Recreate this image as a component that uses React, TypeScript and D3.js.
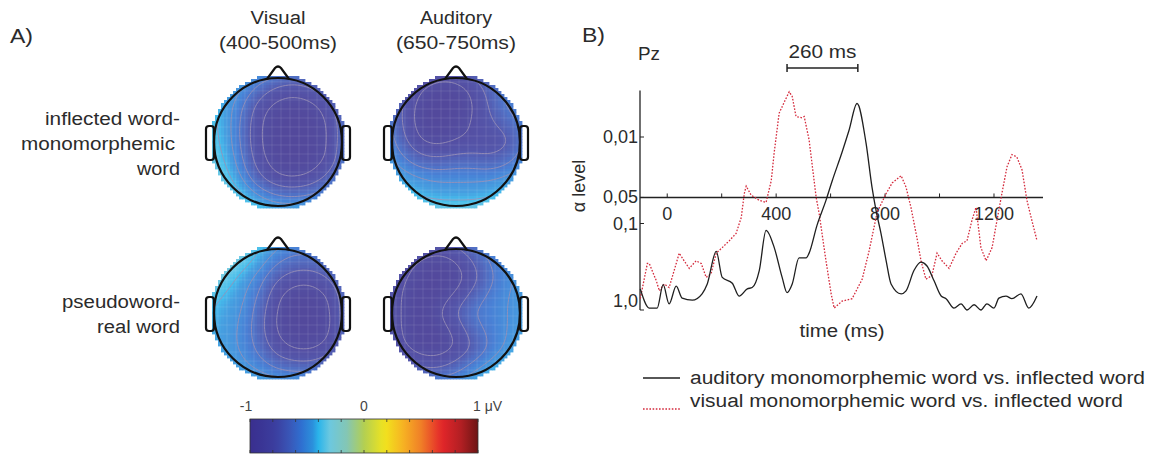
import React from "react";
import * as d3 from "d3";

const W = 1152;
const H = 455;
const FONT = "'Liberation Sans', Arial, sans-serif";
const INK = "#2b2b2b";

// ---------- panel A data ----------
const mapTitles = [
  ["Visual", "(400-500ms)"],
  ["Auditory", "(650-750ms)"],
];
const rowLabels = [
  ["inflected word-", "monomorphemic", "word"],
  ["pseudoword-", "real word"],
];

// amplitude in 1/100 µV on a 9x9 grid over the scalp (row 0 = nose side)
const visualInflected = [
  [-35, -38, -42, -48, -55, -58, -55, -48, -42],
  [-38, -42, -50, -68, -82, -86, -78, -62, -48],
  [-38, -44, -60, -86, -98, -100, -98, -82, -55],
  [-36, -44, -64, -92, -100, -100, -100, -90, -58],
  [-35, -43, -64, -92, -100, -100, -100, -90, -58],
  [-33, -40, -60, -88, -100, -100, -100, -88, -55],
  [-28, -36, -52, -76, -92, -95, -88, -70, -48],
  [-22, -30, -40, -52, -62, -64, -60, -50, -42],
  [-15, -22, -30, -36, -40, -40, -38, -35, -32],
];
const auditoryInflected = [
  [-50, -62, -75, -82, -80, -70, -58, -50, -45],
  [-55, -72, -92, -100, -100, -88, -68, -55, -48],
  [-55, -78, -100, -100, -100, -92, -72, -58, -50],
  [-55, -78, -100, -100, -98, -88, -78, -68, -55],
  [-50, -72, -92, -96, -90, -86, -86, -80, -58],
  [-45, -58, -70, -72, -68, -68, -72, -65, -50],
  [-40, -45, -50, -52, -52, -52, -52, -48, -42],
  [-32, -38, -42, -45, -45, -45, -42, -38, -34],
  [-22, -26, -30, -32, -32, -32, -30, -28, -25],
];
const visualPseudo = [
  [-15, -20, -28, -38, -48, -52, -52, -48, -42],
  [-18, -25, -35, -45, -58, -65, -65, -58, -48],
  [-25, -35, -45, -55, -75, -85, -85, -75, -55],
  [-35, -42, -48, -62, -90, -100, -100, -90, -62],
  [-40, -45, -50, -68, -95, -100, -100, -95, -62],
  [-42, -46, -52, -70, -95, -100, -100, -95, -62],
  [-42, -46, -52, -65, -85, -95, -95, -85, -58],
  [-38, -42, -48, -55, -65, -70, -70, -60, -48],
  [-30, -34, -38, -42, -45, -45, -45, -40, -35],
];
const auditoryPseudo = [
  [-55, -62, -72, -78, -72, -60, -50, -46, -42],
  [-65, -80, -95, -100, -92, -75, -58, -50, -44],
  [-70, -90, -100, -100, -100, -82, -62, -52, -45],
  [-75, -95, -100, -100, -88, -68, -56, -50, -45],
  [-75, -95, -100, -92, -72, -58, -54, -50, -45],
  [-75, -95, -100, -100, -86, -66, -56, -50, -44],
  [-70, -90, -100, -100, -92, -75, -58, -48, -40],
  [-55, -70, -80, -82, -70, -55, -46, -38, -30],
  [-40, -48, -52, -52, -48, -42, -34, -25, -15],
];
const contourLevels = [-0.9, -0.75, -0.6, -0.5, -0.4];

const colorTicks = [-1, 0, 1];
const colorTickLabels = ["-1", "0", "1 μV"];

// ---------- panel B data ----------
const timeTicks = [0, 200, 400, 600, 800, 1000, 1200];
const timeLabels = [0, 400, 800, 1200];
const alphaTicks = [0.01, 0.05, 0.1, 1];
const alphaLabels = ["0,01", "0,05", "0,1", "1,0"];
const scaleBar = [440, 700];

// [time ms, alpha]
const auditoryCurve = [
  [-99, 0.57], [-66, 0.95], [-37, 0.95], [-15, 0.51], [7, 0.85], [33, 0.53], [55, 0.73],
  [92, 0.77], [128, 0.65], [147, 0.5], [180, 0.21], [202, 0.42], [239, 0.49], [264, 0.69],
  [294, 0.57], [312, 0.55], [338, 0.35], [363, 0.12], [393, 0.19], [422, 0.42], [440, 0.63],
  [459, 0.5], [484, 0.25], [510, 0.25], [521, 0.22], [550, 0.105], [583, 0.054], [606, 0.032],
  [642, 0.015], [668, 0.0083], [697, 0.0041], [730, 0.0117], [752, 0.038], [767, 0.071],
  [785, 0.13], [804, 0.27], [822, 0.5], [859, 0.65], [877, 0.6], [906, 0.35], [932, 0.28],
  [954, 0.31], [980, 0.46], [1006, 0.69], [1024, 0.74], [1053, 0.95], [1079, 0.85],
  [1101, 1.0], [1127, 0.87], [1152, 1.0], [1174, 0.85], [1200, 0.95], [1218, 0.73],
  [1244, 0.69], [1266, 0.74], [1299, 0.65], [1328, 0.95], [1358, 0.69],
];
const visualCurve = [
  [-99, 0.74], [-73, 0.29], [-66, 0.29], [-40, 0.46], [-29, 0.6], [-11, 0.5], [7, 0.55],
  [33, 0.29], [44, 0.22], [62, 0.27], [81, 0.33], [106, 0.27], [125, 0.29], [143, 0.42],
  [161, 0.38], [180, 0.22], [202, 0.19], [228, 0.158], [253, 0.13], [272, 0.085], [283, 0.045],
  [290, 0.037], [308, 0.047], [338, 0.054], [363, 0.057], [382, 0.032], [393, 0.015],
  [411, 0.0053], [429, 0.004], [448, 0.003], [459, 0.0034], [473, 0.0058], [495, 0.006],
  [503, 0.0058], [521, 0.0108], [547, 0.05], [558, 0.077], [583, 0.27], [602, 0.65],
  [613, 0.95], [642, 0.79], [679, 0.74], [716, 0.44], [741, 0.21], [771, 0.074], [804, 0.045],
  [826, 0.034], [859, 0.028], [877, 0.038], [895, 0.065], [917, 0.146], [932, 0.27],
  [950, 0.44], [972, 0.4], [991, 0.22], [1009, 0.27], [1035, 0.33], [1061, 0.22], [1083, 0.17],
  [1101, 0.158], [1119, 0.092], [1134, 0.065], [1152, 0.19], [1171, 0.27], [1193, 0.19],
  [1211, 0.092], [1229, 0.045], [1248, 0.022], [1266, 0.016], [1284, 0.017], [1303, 0.024],
  [1321, 0.054], [1339, 0.092], [1358, 0.158],
];
const legendItems = [
  "auditory monomorphemic word vs. inflected word",
  "visual monomorphemic word vs. inflected word",
];

// colour map (jet-like)
const color = d3
  .scaleLinear<string>()
  .domain([-1, -0.78, -0.66, -0.55, -0.45, -0.4, -0.3, -0.15, 0, 0.18, 0.35, 0.5, 0.68, 0.85, 1])
  .range(["#3a2f8e", "#3b3d9e", "#3a55b6", "#2f6fd0", "#2b90dc", "#2ab4ea", "#6cc8df", "#84c6b4",
    "#b3cf52", "#f1e51d", "#f6b023", "#f07f27", "#e4262a", "#b21f23", "#6d1514"])
  .clamp(true);

function Txt(p: any) {
  const { children, size = 18, anchor = "start", len, ...rest } = p;
  return (
    <text fontFamily={FONT} fontSize={size} fill={INK} textAnchor={anchor}
      textLength={len} lengthAdjust={len ? "spacingAndGlyphs" : undefined} {...rest}>
      {children}
    </text>
  );
}

const HEAD_R = 64;
const N = 46;
const HALF = 69;

function Topo({ grid, cx, cy, id }: any) {
  const cell = (2 * HALF) / N;
  const rows = grid.map((r: number[]) => d3.interpolateBasis(r.map((v) => v / 100)));
  const values: number[] = new Array(N * N);
  for (let j = 0; j < N; j++) {
    const u = (j + 0.5) / N;
    const fc = d3.interpolateBasis(rows.map((f: any) => f(u)));
    for (let i = 0; i < N; i++) values[i * N + j] = fc((i + 0.5) / N);
  }
  const cells: any[] = [];
  for (let i = 0; i < N; i++) {
    for (let j = 0; j < N; j++) {
      const px = -HALF + (j + 0.5) * cell;
      const py = -HALF + (i + 0.5) * cell;
      if (Math.hypot(px, py) > 67.5) continue;
      cells.push(
        <rect key={i * N + j} x={cx - HALF + j * cell} y={cy - HALF + i * cell}
          width={cell + 0.4} height={cell + 0.4} fill={color(values[i * N + j])} />
      );
    }
  }
  const contours = d3.contours().size([N, N]).thresholds(contourLevels)(values);
  const path = d3.geoPath();
  const gridLines = d3.range(-60, 61, 9);
  return (
    <g>
      <clipPath id={id}>
        <circle cx={cx} cy={cy} r={65} />
      </clipPath>
      <g opacity={0.87}>{cells}</g>
      <g clipPath={`url(#${id})`}>
        <g stroke="#fff" strokeOpacity={0.1} strokeWidth={1}>
          {gridLines.map((d) => (
            <g key={d}>
              <line x1={cx + d} x2={cx + d} y1={cy - 66} y2={cy + 66} />
              <line x1={cx - 66} x2={cx + 66} y1={cy + d} y2={cy + d} />
            </g>
          ))}
        </g>
        <g transform={`translate(${cx - HALF},${cy - HALF}) scale(${cell})`}>
          {contours.map((c: any, k: number) => (
            <path key={k} d={path(c) || ""} fill="none" stroke="#9a90b6" strokeOpacity={0.85}
              strokeWidth={1} vectorEffect="non-scaling-stroke" />
          ))}
        </g>
      </g>
      <g fill="none" stroke="#111" strokeWidth={2.2}>
        <circle cx={cx} cy={cy} r={HEAD_R} />
        <path d={`M${cx - 11},${cy - HEAD_R + 1} L${cx - 3},${cy - HEAD_R - 10} Q${cx},${cy - HEAD_R - 13} ${cx + 3},${cy - HEAD_R - 10} L${cx + 11},${cy - HEAD_R + 1}`} />
        <rect x={cx - HEAD_R - 8} y={cy - 16} width={8} height={34} rx={3} />
        <rect x={cx + HEAD_R} y={cy - 16} width={8} height={34} rx={3} />
      </g>
    </g>
  );
}

export default function App() {
  // panel A layout
  const colX = [278, 456];
  const rowY = [142, 313];
  const maps = [
    [visualInflected, auditoryInflected],
    [visualPseudo, auditoryPseudo],
  ];
  const titleLen = [[55, 118], [72, 120]];
  const rowLen = [[135, 154, 43], [118, 83]];
  const rowRight = [[180, 175, 180], [180, 180]];

  const cbar = d3.scaleLinear().domain([-1, 1]).range([250, 478]);
  const gradStops = d3.range(-1, 1.0001, 0.05);

  // panel B scales
  const x = d3.scaleLinear().domain([-100, 1380]).range([640, 1043]);
  const y = d3.scaleLog().domain([1, 0.01]).range([310, 137]);
  const xAxisY = y(0.05);
  const lineA = d3.line<number[]>().x((d) => x(d[0])).y((d) => y(d[1])).curve(d3.curveMonotoneX);
  const lineV = d3.line<number[]>().x((d) => x(d[0])).y((d) => y(d[1]));

  return (
    <svg width={W} height={H} style={{ position: "absolute", left: 0, top: 0, background: "#fff" }}>
      <defs>
        <linearGradient id="cbarGrad" x1="0" x2="1" y1="0" y2="0">
          {gradStops.map((v) => (
            <stop key={v} offset={`${((v + 1) / 2) * 100}%`} stopColor={color(v)} />
          ))}
        </linearGradient>
      </defs>
      {/* ---------- panel A ---------- */}
      <Txt x={10} y={43} size={21} len={23}>A)</Txt>
      {mapTitles.map((t, c) => (
        <g key={c}>
          <Txt x={colX[c]} y={24} anchor="middle" len={titleLen[c][0]}>{t[0]}</Txt>
          <Txt x={colX[c]} y={49} anchor="middle" len={titleLen[c][1]}>{t[1]}</Txt>
        </g>
      ))}
      {rowLabels.map((lines, r) =>
        lines.map((s, k) => (
          <Txt key={`${r}-${k}`} x={rowRight[r][k]} y={(r === 0 ? 125 : 308) + k * 25}
            anchor="end" len={rowLen[r][k]}>{s}</Txt>
        ))
      )}
      {maps.map((row, r) =>
        row.map((g, c) => <Topo key={`${r}${c}`} grid={g} cx={colX[c]} cy={rowY[r]} id={`clip${r}${c}`} />)
      )}
      {/* colour bar */}
      <rect x={250} y={419} width={228} height={34} fill="url(#cbarGrad)" stroke="#333" strokeWidth={0.8} />
      {d3.range(-1, 1.001, 0.2).map((v) => (
        <g key={v} stroke="#333" strokeWidth={0.8}>
          <line x1={cbar(v)} x2={cbar(v)} y1={419} y2={422} />
          <line x1={cbar(v)} x2={cbar(v)} y1={450} y2={453} />
        </g>
      ))}
      {colorTicks.map((v, i) => (
        <Txt key={v} x={i === 2 ? cbar(v) - 5 : cbar(v) - (i === 0 ? 4 : 0)} y={411} size={14}
          anchor={i === 2 ? "start" : "middle"} fill="#444">{colorTickLabels[i]}</Txt>
      ))}

      {/* ---------- panel B ---------- */}
      <Txt x={582} y={42} size={21} len={23}>B)</Txt>
      <Txt x={638} y={60} len={22}>Pz</Txt>
      <g stroke="#222" strokeWidth={1.5}>
        <line x1={x(scaleBar[0])} x2={x(scaleBar[1])} y1={68} y2={68} />
        <line x1={x(scaleBar[0])} x2={x(scaleBar[0])} y1={64} y2={72} />
        <line x1={x(scaleBar[1])} x2={x(scaleBar[1])} y1={64} y2={72} />
      </g>
      <Txt x={(x(scaleBar[0]) + x(scaleBar[1])) / 2} y={58} anchor="middle" len={68}>
        {`${scaleBar[1] - scaleBar[0]} ms`}
      </Txt>

      {/* axes */}
      <line x1={640} x2={640} y1={y(0.0029)} y2={y(1)} stroke="#222" strokeWidth={1.3} />
      {alphaTicks.map((p) => (
        <line key={p} x1={640} x2={644} y1={y(p)} y2={y(p)} stroke="#222" strokeWidth={1} />
      ))}
      {alphaTicks.map((p, i) => (
        <Txt key={p} x={638} y={Math.min(y(p) + 6, 307)} anchor="end">{alphaLabels[i]}</Txt>
      ))}
      <line x1={640} x2={1043} y1={xAxisY} y2={xAxisY} stroke="#222" strokeWidth={1.5} />
      {timeTicks.map((t) => (
        <line key={t} x1={x(t)} x2={x(t)} y1={xAxisY - 4} y2={xAxisY} stroke="#222" strokeWidth={1} />
      ))}
      {timeLabels.map((t) => (
        <Txt key={t} x={x(t)} y={220} anchor="middle">{t}</Txt>
      ))}
      <Txt x={842} y={337} anchor="middle" len={85}>time (ms)</Txt>
      <Txt transform="translate(585,186) rotate(-90)" anchor="middle">α level</Txt>

      {/* curves */}
      <path d={lineV(visualCurve) || ""} fill="none" stroke="#d42a3c" strokeWidth={1.3} strokeDasharray="1.6 1.6" />
      <path d={lineA(auditoryCurve) || ""} fill="none" stroke="#1f1f1f" strokeWidth={1.3} />

      {/* legend */}
      <line x1={643} x2={680} y1={378} y2={378} stroke="#1f1f1f" strokeWidth={1.3} />
      <line x1={643} x2={680} y1={409} y2={409} stroke="#d42a3c" strokeWidth={1.3} strokeDasharray="1.6 1.6" />
      <Txt x={690} y={384} len={455}>{legendItems[0]}</Txt>
      <Txt x={690} y={407} len={433}>{legendItems[1]}</Txt>
    </svg>
  );
}
